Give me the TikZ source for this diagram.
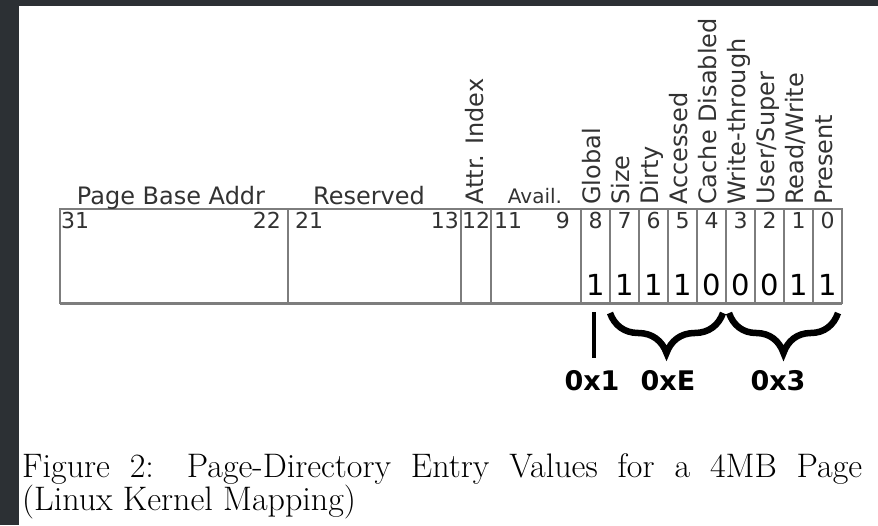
\documentclass[tikz,border=0pt]{standalone}
\usepackage{fontspec}
\newfontfamily\dejavu{DejaVu Sans}
\newfontfamily\dejavubf{DejaVu Sans Bold}
\usetikzlibrary{decorations.pathreplacing}

\definecolor{frame}{RGB}{44,48,52}
\definecolor{boxgray}{RGB}{125,125,125}
\definecolor{labelgray}{RGB}{50,50,50}

\tikzset{
  boxline/.style={draw=boxgray, line width=1.5pt},
  fieldname/.style={rotate=90, anchor=base west, inner sep=0pt, text=labelgray,
    font=\dejavu\fontsize{24}{24}\selectfont},
  groupname/.style={anchor=base, inner sep=0pt, text=labelgray,
    font=\dejavu\fontsize{24}{24}\selectfont},
  bitnum/.style={anchor=base, inner sep=0pt, text=labelgray,
    font=\dejavu\fontsize{22}{22}\selectfont},
  bitval/.style={anchor=base, inner sep=0pt,
    font=\dejavu\fontsize{29}{29}\selectfont},
  hexval/.style={anchor=base, inner sep=0pt,
    font=\dejavubf\fontsize{27}{27}\selectfont},
  hexbrace/.style={decorate, decoration={brace, mirror, amplitude=40pt},
    line width=6.5pt},
}

\begin{document}
\begin{tikzpicture}[x=1pt, y=-1pt]
  \useasboundingbox (0,0) rectangle (878,525);
  % screen frame
  \fill[frame] (0,0) rectangle (878,6);
  \fill[frame] (0,0) rectangle (19,525);

  % the entry
  \draw[boxline] (60,209) rectangle (842,303);
  \draw[boxline, line width=3pt] (60,303) -- (842,303);
  \foreach \x in {288,461,491,581,610,639,668,697,726,755,784,813}
    \draw[boxline] (\x,209) -- (\x,303);

  % wide fields
  \node[groupname] (pba) at (171,204) {Page Base Addr};
  \node[groupname] (res) at (369,204) {Reserved};
  \node[groupname, font=\dejavu\fontsize{20}{20}\selectfont] (avl) at (535,203) {Avail.};
  \node[fieldname] (pat) at (483,205) {Attr. Index};

  \node[bitnum, anchor=base west] (n31) at (61,228) {31};
  \node[bitnum, anchor=base east] (n22) at (281,228) {22};
  \node[bitnum, anchor=base west] (n21) at (295,228) {21};
  \node[bitnum, anchor=base east] (n13) at (459,228) {13};
  \node[bitnum] (n12) at (476,228) {12};
  \node[bitnum, anchor=base west] (n11) at (494,228) {11};
  \node[bitnum, anchor=base east] (n9) at (570,228) {9};

  % flag bits
  \foreach \b/\lab/\val in {8/Global/1, 7/Size/1, 6/Dirty/1, 5/Accessed/1,
      4/Cache Disabled/0, 3/Write-through/0, 2/User\slash Super/0,
      1/Read\slash Write/1, 0/Present/1} {
    \pgfmathsetmacro\xc{595.5+(8-\b)*29}
    \node[bitnum] (n\b) at (\xc,228) {\b};
    \node[bitval] (v\b) at (\xc,295) {\val};
    \node[fieldname] (f\b) at (\xc+5,205) {\lab};
  }

  % grouping
  \coordinate (g8t) at (594,312);
  \coordinate (g8b) at (594,358);
  \coordinate (s7) at (610,313);
  \coordinate (s4) at (723,313);
  \coordinate (s3) at (729,313);
  \coordinate (s0) at (838,313);
  \draw[line width=4pt] (g8t) -- (g8b);
  \draw[hexbrace] (s7) -- (s4);
  \draw[hexbrace] (s3) -- (s0);

  \node[hexval] (h1) at (592,390) {0x1};
  \node[hexval] (hE) at (668,390) {0xE};
  \node[hexval] (h3) at (778,390) {0x3};

  % caption
  \node[anchor=base west, inner sep=0pt] (cap) at (22,477)
    {\parbox[t]{840pt}{\fontsize{34}{31}\selectfont
      Figure 2: Page-Directory Entry Values for a 4MB Page\linebreak
      (Linux Kernel Mapping)}};
\end{tikzpicture}
\end{document}
